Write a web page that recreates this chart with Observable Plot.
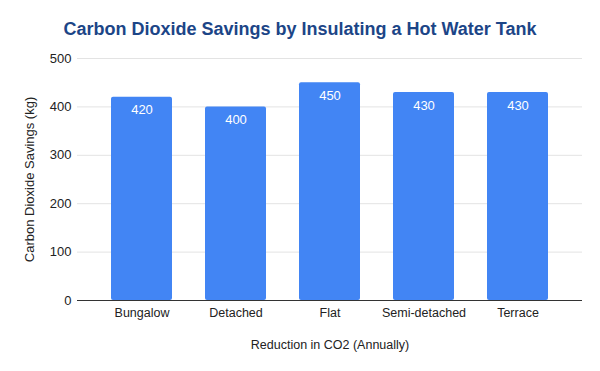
<!DOCTYPE html>
<html><head><meta charset="utf-8">
<script src="https://cdn.jsdelivr.net/npm/d3@7"></script>
<script src="https://cdn.jsdelivr.net/npm/@observablehq/plot@0.6"></script>
<style>
body{margin:0;background:#fff;font-family:"Liberation Sans",Arial,sans-serif;}
#title{height:45px;box-sizing:border-box;padding-top:19px;text-align:center;font-weight:bold;font-size:18px;color:#1c4587;}
</style></head>
<body>
<div id="title">Carbon Dioxide Savings by Insulating a Hot Water Tank</div>
<div id="chart"></div>
<script>
const categories = ["Bungalow","Detached","Flat","Semi-detached","Terrace"];
const values = [420,400,450,430,430];
const yTicks = [0,100,200,300,400,500];
const data = categories.map((c,i)=>({category:c, value:values[i]}));

const chart = Plot.plot({
  width:600, height:326,
  marginTop:13, marginBottom:71, marginLeft:77, marginRight:18,
  style:{fontFamily:"'Liberation Sans',Arial,sans-serif", fontSize:"12.5px", color:"#222", background:"#fff"},
  x:{domain:categories, range:[94.4,565.6], paddingInner:0.35, paddingOuter:0.175, label:null},
  y:{domain:[0,500], ticks:yTicks, label:null},
  marks:[
    Plot.ruleY(yTicks.filter(d=>d>0), {stroke:"#e3e3e3", strokeWidth:1}),
    Plot.barY(data, {x:"category", y:"value", fill:"#4285f4", rx:2}),
    Plot.ruleY([0], {stroke:"#333", strokeWidth:1}),
    Plot.text(data, {x:"category", y:"value", text:d=>String(d.value), fill:"#fff", dy:13, fontSize:13}),
    Plot.axisX({tickSize:0, tickPadding:8, fontSize:12.5, label:"Reduction in CO2 (Annually)", labelAnchor:"center", labelArrow:"none", labelOffset:48}),
    Plot.axisY({ticks:yTicks, tickSize:0, tickPadding:6, fontSize:13, label:"Carbon Dioxide Savings (kg)", labelAnchor:"center", labelArrow:"none", labelOffset:53})
  ]
});
document.getElementById("chart").appendChild(chart);
</script>
</body></html>
